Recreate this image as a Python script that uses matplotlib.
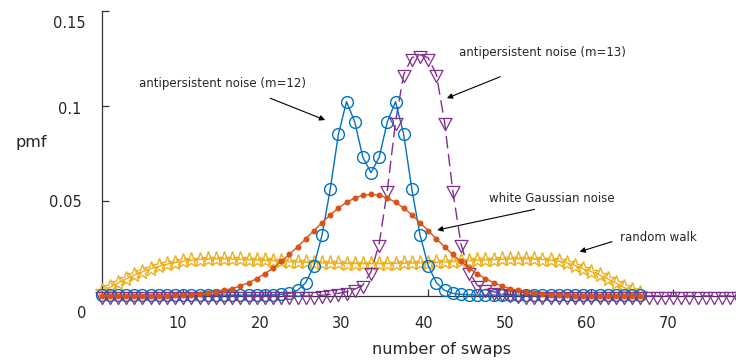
import numpy as np
import matplotlib
matplotlib.use("Agg")
import matplotlib.pyplot as plt
from matplotlib.path import Path
from matplotlib.transforms import ScaledTranslation

# ---- data (pmf vs number of swaps) ----
swaps = np.arange(0, 67)
swaps_m13 = np.arange(0, 79)

random_walk = [
    0.0025, 0.0045, 0.0068, 0.0090, 0.0110, 0.0128, 0.0143, 0.0156, 0.0167, 0.0176,
    0.0183, 0.0188, 0.0192, 0.0194, 0.0195, 0.0195, 0.0194, 0.0193, 0.0191, 0.0189,
    0.0187, 0.0185, 0.0183, 0.0181, 0.0179, 0.0177, 0.0175, 0.0174, 0.0173, 0.0172,
    0.0171, 0.0171, 0.0170, 0.0170, 0.0170, 0.0171, 0.0171, 0.0172, 0.0173, 0.0174,
    0.0175, 0.0177, 0.0179, 0.0181, 0.0183, 0.0185, 0.0187, 0.0189, 0.0191, 0.0193,
    0.0194, 0.0195, 0.0195, 0.0194, 0.0192, 0.0188, 0.0183, 0.0174, 0.0160, 0.0143,
    0.0128, 0.0110, 0.0090, 0.0068, 0.0045, 0.0030, 0.0015,
]

white_noise = [
    0.0001, 0.0001, 0.0001, 0.0001, 0.0001, 0.0001, 0.0001, 0.0001, 0.0002, 0.0003,
    0.0004, 0.0007, 0.0010, 0.0015, 0.0021, 0.0029, 0.0039, 0.0053, 0.0070, 0.0092,
    0.0117, 0.0147, 0.0182, 0.0219, 0.0259, 0.0301, 0.0344, 0.0386, 0.0427, 0.0463,
    0.0493, 0.0516, 0.0530, 0.0535, 0.0530, 0.0516, 0.0493, 0.0463, 0.0427, 0.0386,
    0.0344, 0.0301, 0.0259, 0.0219, 0.0182, 0.0147, 0.0117, 0.0092, 0.0070, 0.0053,
    0.0039, 0.0029, 0.0021, 0.0015, 0.0010, 0.0007, 0.0004, 0.0003, 0.0002, 0.0001,
    0.0001, 0.0001, 0.0001, 0.0001, 0.0001, 0.0001, 0.0001,
]

anti_m12 = [
    0.0005, 0.0005, 0.0005, 0.0005, 0.0005, 0.0005, 0.0005, 0.0005, 0.0005, 0.0005,
    0.0005, 0.0005, 0.0005, 0.0005, 0.0005, 0.0005, 0.0005, 0.0005, 0.0005, 0.0005,
    0.0005, 0.0006, 0.0009, 0.0014, 0.0030, 0.0070, 0.0158, 0.0321, 0.0561, 0.0851,
    0.1023, 0.0917, 0.0730, 0.0649, 0.0730, 0.0917, 0.1023, 0.0851, 0.0561, 0.0321,
    0.0160, 0.0070, 0.0030, 0.0014, 0.0009, 0.0006, 0.0005, 0.0005, 0.0005, 0.0005,
    0.0005, 0.0005, 0.0005, 0.0005, 0.0005, 0.0005, 0.0005, 0.0005, 0.0005, 0.0005,
    0.0005, 0.0005, 0.0005, 0.0005, 0.0005, 0.0005, 0.0005,
]

anti_m13 = [0.0] * 27 + [
    0.0004, 0.0008, 0.0014, 0.0022, 0.0035, 0.0057, 0.0128, 0.0276, 0.0557, 0.0917,
    0.1166, 0.1254, 0.1270, 0.1254, 0.1166, 0.0917, 0.0557, 0.0276, 0.0128, 0.0057,
    0.0035, 0.0022, 0.0014, 0.0008, 0.0004,
] + [0.0] * 27

xticks = [10, 20, 30, 40, 50, 60, 70]
yticks = [0, 0.05, 0.1, 0.15]
ytick_labels = ["0", "0.05", "0.1", "0.15"]

BLUE = "#0072BD"
ORANGE = "#D95319"
YELLOW = "#EDB120"
PURPLE = "#7E2F8E"
TXT = "#262626"

# down triangle centred on its centroid (gnuplot style)
TRI_DOWN = Path([(-1, 0.62), (1, 0.62), (0, -1.24), (-1, 0.62)],
                [Path.MOVETO, Path.LINETO, Path.LINETO, Path.CLOSEPOLY])


def shift(fig, label, dx, dy):
    """move a tick label by (dx, dy) pixels"""
    label.set_transform(label.get_transform()
                        + ScaledTranslation(dx / 100, dy / 100, fig.dpi_scale_trans))


def main():
    fig = plt.figure(figsize=(7.36, 3.6), dpi=100)
    ax = fig.add_axes([101.6 / 736, 64 / 360, 1 - 101.6 / 736, 285 / 360])

    ax.plot(swaps, random_walk, color=YELLOW, lw=1.0, marker="*", ms=11,
            mfc="none", mew=1.0, clip_on=False, zorder=2)
    ax.plot(swaps, anti_m12, color=BLUE, lw=1.0, marker="o", ms=8.5,
            mfc="none", mew=1.0, clip_on=False, zorder=3)
    ax.plot(swaps_m13, anti_m13, color=PURPLE, lw=1.0, dashes=(9, 4),
            marker=TRI_DOWN, ms=11.6, mfc="none", mew=0.9, clip_on=False, zorder=4)
    ax.plot(swaps, white_noise, color=ORANGE, lw=1.0, marker="o", ms=4.3,
            mew=0, clip_on=False, zorder=5)

    ax.set_xlim(0, 77.7)
    ax.set_ylim(0, 0.15)

    for side in ("top", "right"):
        ax.spines[side].set_visible(False)
    for side in ("left", "bottom"):
        ax.spines[side].set_linewidth(0.9)
        ax.spines[side].set_color("#333333")
        ax.spines[side].set_zorder(1)

    ax.tick_params(direction="in", length=5, width=0.9, color="#333333",
                   pad=14.4, labelsize=10.5, labelcolor=TXT)
    ax.set_xticks(xticks)
    ax.set_yticks(yticks, ytick_labels)

    for lab in ax.get_xticklabels():
        shift(fig, lab, -5, 0)
    ylabs = ax.get_yticklabels()
    shift(fig, ylabs[0], 4.3, -16)
    shift(fig, ylabs[1], 0, 0)
    shift(fig, ylabs[2], 0, -2)
    shift(fig, ylabs[3], 4.3, -11)

    ax.set_xlabel("number of swaps", fontsize=11.6, color=TXT)
    ax.xaxis.set_label_coords(0.535, -0.189)
    ax.xaxis.label.set_va("center")
    ax.set_ylabel("pmf", fontsize=11.6, color=TXT, rotation=0)
    ax.yaxis.set_label_coords(-0.111, 0.537)
    ax.yaxis.label.set_va("center")
    ax.yaxis.label.set_ha("center")

    # annotations: (label, text pos, arrow tail, arrow head)
    notes = [
        ("antipersistent noise (m=12)", (4.62, 0.1116), (20.64, 0.1041), (27.38, 0.0926)),
        ("antipersistent noise (m=13)", (43.8, 0.1284), (48.82, 0.1154), (42.29, 0.1041)),
        ("white Gaussian noise", (47.39, 0.0514), (53.03, 0.0456), (41.1, 0.0347)),
        ("random walk", (63.53, 0.0307), (62.51, 0.0286), (58.54, 0.0233)),
    ]
    for text, pos, tail, head in notes:
        ax.text(pos[0], pos[1], text, fontsize=8.5, color=TXT, ha="left", va="center")
        ax.annotate("", xy=head, xytext=tail,
                    arrowprops=dict(arrowstyle="-|>", color="black", lw=0.8,
                                    mutation_scale=8, shrinkA=0, shrinkB=0))

    fig.savefig("out.png", dpi=100)
    plt.close(fig)


if __name__ == "__main__":
    main()
